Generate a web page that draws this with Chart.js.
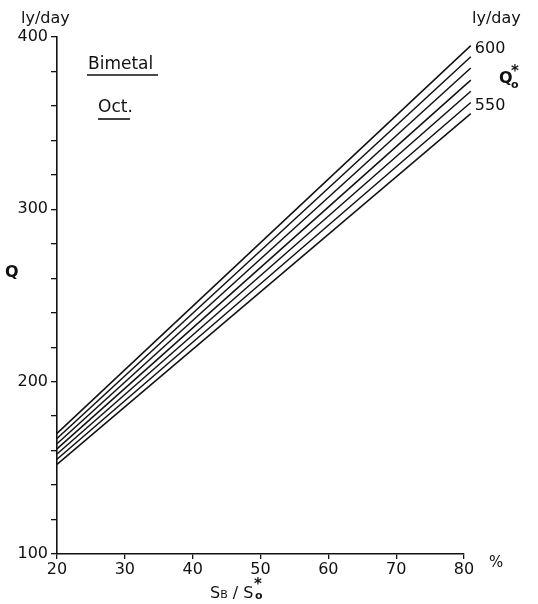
<!DOCTYPE html>
<html>
<head>
<meta charset="utf-8">
<script src="https://cdn.jsdelivr.net/npm/chart.js@4.4.0/dist/chart.umd.min.js"></script>
<style>
  html, body { margin: 0; padding: 0; background: #fff; }
  #wrap { width: 538px; height: 604px; }
</style>
</head>
<body>
<div id="wrap"><canvas id="chart" width="538" height="604"></canvas></div>
<script>
// Q (ly/day) vs SB/S0* (%), Bimetal, Oct., one line per Q0* value
const xValues = [20, 81];
const qStar = [600, 590, 580, 570, 560, 550, 540];
const qAt20 = [170, 167, 164, 161, 158, 155, 152];
const qAt81 = [395, 388.5, 382, 375, 368.5, 362, 355.5];
const yTicks = [100, 200, 300, 400];

const FONT = "DejaVu Sans";
const INK = "#111";

const datasets = qStar.map((q, i) => ({
  label: String(q),
  data: xValues.map((x, j) => ({ x, y: j === 0 ? qAt20[i] : qAt81[i] })),
  borderColor: INK,
  borderWidth: 1.5,
  pointRadius: 0,
  fill: false,
  clip: false
}));

function drawSub(ctx, parts, x, y) {
  // parts: [text, size, dy]
  let cx = x;
  parts.forEach(([t, size, dy]) => {
    ctx.font = size + "px '" + FONT + "'";
    ctx.fillText(t, cx, y + dy);
    cx += ctx.measureText(t).width;
  });
}

const annotations = {
  id: "annotations",
  afterDraw(chart) {
    const { ctx, chartArea, scales } = chart;
    const xs = scales.x, ys = scales.y;
    ctx.save();
    ctx.fillStyle = INK;
    ctx.strokeStyle = INK;
    ctx.textBaseline = "alphabetic";
    ctx.textAlign = "left";
    ctx.font = "16px '" + FONT + "'";

    // units
    ctx.fillText("ly/day", chartArea.left - 36, chartArea.top - 14);
    ctx.fillText("ly/day", 472, chartArea.top - 14);

    // line labels
    const xr = xs.getPixelForValue(xValues[1]) + 4;
    ctx.fillText(qStar[0], xr, ys.getPixelForValue(qAt81[0]) + 7);
    ctx.fillText(qStar[5], xr, ys.getPixelForValue(qAt81[5]) + 8);
    const qy = ys.getPixelForValue(qAt81[3]) + 3;
    ctx.font = "bold 16px '" + FONT + "'";
    ctx.fillText("Q", 499, qy);
    ctx.font = "bold 15px '" + FONT + "'";
    ctx.fillText("*", 511, qy - 7);
    ctx.font = "bold 11px '" + FONT + "'";
    ctx.fillText("o", 511, qy + 5);

    // Q axis label
    ctx.font = "bold 16px '" + FONT + "'";
    ctx.fillText("Q", 5, 277);

    // percent sign
    ctx.font = "15px '" + FONT + "'";
    ctx.fillText("%", chartArea.right + 25, chartArea.bottom + 13);

    // x title SB/S0*
    drawSub(ctx, [["S", 16, 0], ["B", 11, 0], [" / S", 16, 0]], 210, 598);
    ctx.font = "bold 15px '" + FONT + "'";
    ctx.fillText("*", 254, 589);
    ctx.font = "bold 11px '" + FONT + "'";
    ctx.fillText("o", 255, 599);

    // Bimetal / Oct. with underline
    ctx.font = "17px '" + FONT + "'";
    ctx.fillText("Bimetal", 88, 69);
    ctx.lineWidth = 1.6;
    ctx.beginPath();
    ctx.moveTo(87, 75); ctx.lineTo(158, 75);
    ctx.stroke();
    ctx.fillText("Oct.", 98, 112);
    ctx.beginPath();
    ctx.moveTo(98, 119); ctx.lineTo(130, 119);
    ctx.stroke();
    ctx.restore();
  }
};

new Chart(document.getElementById("chart"), {
  type: "line",
  data: { datasets },
  plugins: [annotations],
  options: {
    responsive: false,
    animation: false,
    layout: { padding: { left: 0, right: 74, top: 37, bottom: 0 } },
    plugins: { legend: { display: false }, tooltip: { enabled: false } },
    scales: {
      x: {
        type: "linear",
        min: 20,
        max: 80,
        afterFit: s => { s.height = 50; },
        border: { display: true, color: INK, width: 1.6 },
        grid: { drawOnChartArea: false, tickLength: 5, color: INK, lineWidth: 1.3 },
        ticks: { stepSize: 10, padding: 1, color: INK, font: { family: FONT, size: 16 } }
      },
      y: {
        type: "linear",
        min: 100,
        max: 400,
        afterFit: s => { s.width = 57; },
        border: { display: true, color: INK, width: 1.6 },
        grid: { drawOnChartArea: false, tickLength: 6, color: INK, lineWidth: 1.3 },
        ticks: {
          stepSize: 20,
          padding: 3,
          color: INK,
          font: { family: FONT, size: 16 },
          callback: v => (yTicks.includes(v) ? String(v) : "")
        }
      }
    }
  }
});
</script>
</body>
</html>
